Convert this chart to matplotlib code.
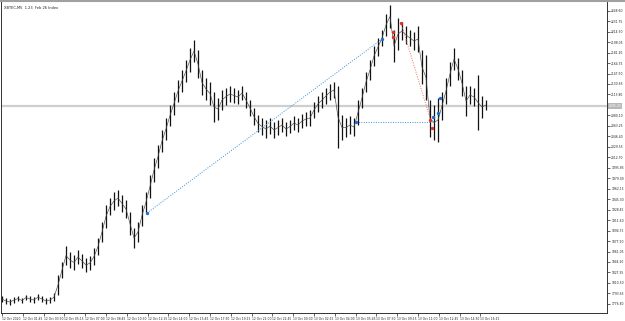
import numpy as np
import matplotlib
matplotlib.use("Agg")
import matplotlib.pyplot as plt

# OHLC bar extremes (one bar every few candles)
bar_high = [1789.4, 1786.2, 1784.6, 1787.8, 1789.4, 1786.2, 1791.0, 1789.4, 1787.8, 1792.6,
            1789.4, 1786.2, 1787.8, 1794.2, 1823.2, 1844.1, 1869.9, 1860.2, 1855.4, 1863.5,
            1857.0, 1850.6, 1853.8, 1866.7, 1882.8, 1908.5, 1935.9, 1947.1, 1956.8, 1960.0,
            1952.0, 1943.9, 1924.6, 1898.9, 1908.5, 1935.9, 1956.8, 1984.2, 2011.5, 2032.4,
            2056.6, 2075.9, 2096.8, 2117.7, 2137.1, 2153.1, 2169.2, 2188.5, 2201.4, 2185.3,
            2153.1, 2140.3, 2133.8, 2117.7, 2108.1, 2121.0, 2124.2, 2127.4, 2124.2, 2121.0,
            2127.4, 2117.7, 2104.9, 2092.0, 2080.7, 2075.9, 2072.7, 2075.9, 2069.5, 2072.7,
            2075.9, 2069.5, 2072.7, 2079.1, 2075.9, 2082.3, 2085.5, 2088.8, 2101.6, 2111.3,
            2117.7, 2124.2, 2130.6, 2133.8, 2127.4, 2080.7, 2075.9, 2079.1, 2075.9, 2104.9,
            2124.2, 2149.9, 2169.2, 2191.8, 2204.6, 2217.5, 2243.3, 2257.8, 2217.5, 2236.8,
            2230.4, 2224.0, 2217.5, 2214.3, 2224.0, 2185.3, 2177.3, 2104.9, 2096.8, 2108.1,
            2117.7, 2140.3, 2166.0, 2188.5, 2172.5, 2153.1, 2127.4, 2127.4, 2124.2, 2145.1,
            2111.3, 2104.9]
bar_low = [1779.8, 1776.5, 1774.9, 1778.1, 1781.4, 1778.1, 1783.0, 1779.8, 1778.1, 1783.0,
           1779.8, 1776.5, 1778.1, 1781.4, 1791.0, 1818.4, 1839.3, 1834.5, 1831.3, 1840.9,
           1834.5, 1828.0, 1831.3, 1839.3, 1855.4, 1876.3, 1898.9, 1919.8, 1927.8, 1934.3,
           1924.6, 1915.0, 1887.6, 1866.7, 1876.3, 1902.1, 1924.6, 1947.1, 1972.9, 1995.4,
           2021.2, 2040.5, 2063.0, 2080.7, 2101.6, 2117.7, 2133.8, 2149.9, 2166.0, 2140.3,
           2112.9, 2104.9, 2096.8, 2069.5, 2072.7, 2088.8, 2096.8, 2101.6, 2100.0, 2098.4,
           2104.9, 2092.0, 2079.1, 2064.6, 2053.4, 2048.5, 2043.7, 2050.1, 2043.7, 2048.5,
           2053.4, 2046.9, 2051.8, 2056.6, 2053.4, 2059.8, 2063.0, 2063.0, 2075.9, 2085.5,
           2092.0, 2098.4, 2104.9, 2108.1, 2027.6, 2040.5, 2045.3, 2050.1, 2046.9, 2064.6,
           2092.0, 2117.7, 2137.1, 2159.6, 2175.7, 2191.8, 2207.9, 2220.7, 2166.0, 2185.3,
           2201.4, 2195.0, 2191.8, 2185.3, 2182.1, 2130.6, 2104.9, 2045.3, 2040.5, 2037.3,
           2072.7, 2098.4, 2127.4, 2153.1, 2137.1, 2111.3, 2079.1, 2098.4, 2095.2, 2056.6,
           2075.9, 2088.8]

current_price = 2095.20

# trendlines: (bar index, price) pairs
blue_diag = ([36.25, 95.0], [1923.0, 2203.0])
blue_flat = ([88.5, 107.5], [2069.5, 2069.5])
red_diag = ([99.75, 107.0], [2228.8, 2075.9])
blue_marks = ([36.25, 95.0, 88.5, 107.75, 109.0, 109.5], [1923.0, 2203.0, 2069.5, 2078.0, 2084.0, 2108.0])
red_marks = ([97.75, 97.75, 99.75, 107.0, 107.5], [2214.0, 2207.0, 2229.0, 2073.0, 2060.0])

price_ticks = [2248.60 - 16.85 * k for k in range(29)]
time_labels = ["12 Oct 2020", "12 Oct 01:45", "12 Oct 03:30", "12 Oct 05:15", "12 Oct 07:00",
               "12 Oct 08:45", "12 Oct 10:30", "12 Oct 12:15", "12 Oct 14:00", "12 Oct 15:45",
               "12 Oct 17:30", "12 Oct 19:15", "12 Oct 21:00", "12 Oct 22:45", "13 Oct 00:30",
               "13 Oct 02:15", "13 Oct 04:00", "13 Oct 05:45", "13 Oct 07:30", "13 Oct 09:15",
               "13 Oct 11:00", "13 Oct 12:45", "13 Oct 14:30", "13 Oct 16:15"]

W, H = 625, 321
fig = plt.figure(figsize=(W / 100, H / 100), dpi=100)
fig.patch.set_facecolor("white")
ax = fig.add_axes([1 / W, 1 - 313 / H, 606 / W, 311 / H])

n = len(bar_high)
idx = np.arange(n)
mid = (np.array(bar_high) + np.array(bar_low)) / 2
ax.vlines(idx, bar_low, bar_high, color="#111111", lw=0.9)
ax.plot(idx, mid, color="#444444", lw=0.45)

ax.axhline(current_price, color="#cfcfcf", lw=1.6, zorder=0)

ax.plot(*blue_diag, color="#3d8fd8", lw=0.7, ls=(0, (1, 1.5)))
ax.plot(*blue_flat, color="#3d8fd8", lw=0.7, ls=(0, (1, 1.5)))
ax.plot(*red_diag, color="#f07060", lw=0.7, ls=(0, (1, 1.5)))
ax.scatter(*blue_marks, s=2, color="#1f6fd0", zorder=5)
ax.scatter(*red_marks, s=2, color="#e03020", zorder=5)

ax.set_xlim(-0.25, 151.25)
ax.set_ylim(1762.1, 2262.6)

# the tick hidden under the current-price box is left out
shown_ticks = [v for v in price_ticks if abs(v - current_price) > 5]
ax.yaxis.tick_right()
ax.set_yticks(shown_ticks)
ax.set_yticklabels([f"{v:.2f}" for v in shown_ticks])
ax.set_xticks([5.2 * k for k in range(len(time_labels))])
ax.set_xticklabels(time_labels, ha="left")
ax.tick_params(axis="both", length=2, width=0.5, labelsize=2.2, colors="#222222", pad=1)
for sp in ("left", "bottom", "right"):
    ax.spines[sp].set_linewidth(0.7)
    ax.spines[sp].set_color("#333333")
ax.spines["top"].set_visible(False)

ax.text(1.003, current_price, f"{current_price:.2f}", transform=ax.get_yaxis_transform(),
        fontsize=2.2, color="white", va="center", ha="left",
        bbox=dict(boxstyle="square,pad=0.3", facecolor="#b8b8b8", edgecolor="none"), zorder=10)

fig.text(4 / W, 1 - 8 / H, "XBTEC,M5  1.23  Feb 26 Index", fontsize=2.6, color="#222222", va="center")
fig.add_artist(plt.Line2D([0, 1], [1 - 1 / H, 1 - 1 / H], color="#a0a0a0", lw=1.5))

fig.savefig("out.png", dpi=100, facecolor="white")
